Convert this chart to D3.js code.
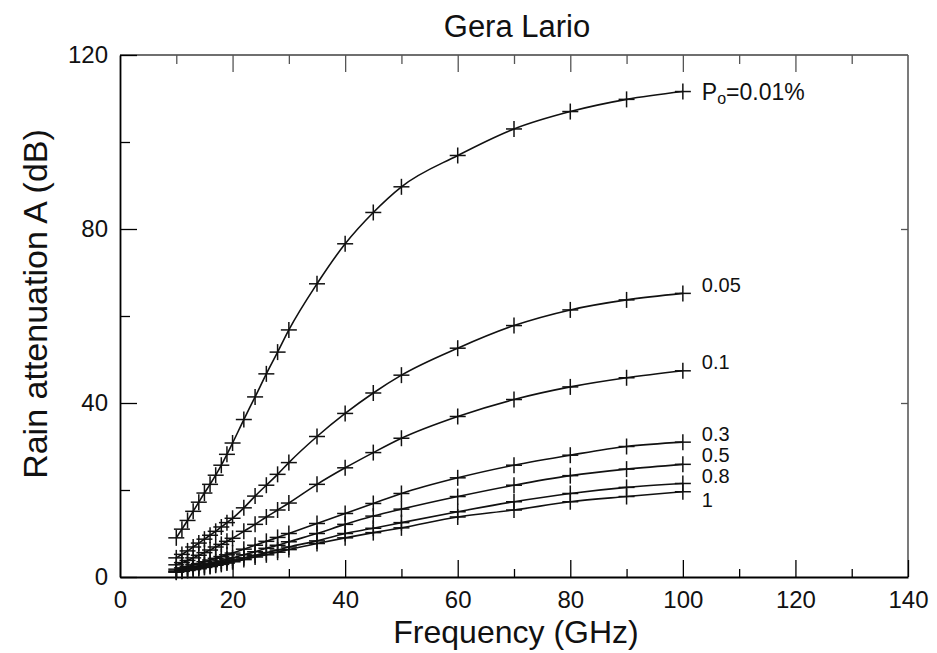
<!DOCTYPE html>
<html>
<head>
<meta charset="utf-8">
<script src="https://cdn.jsdelivr.net/npm/d3@7"></script>
<style>
  html, body { margin: 0; padding: 0; background: #fff; }
  svg { display: block; font-family: "Liberation Sans", Arial, Helvetica, sans-serif; }
</style>
</head>
<body>
<svg id="chart" width="937" height="653"></svg>
<script>
// Frequencies (GHz) at which attenuation was computed
const frequencies = [10, 11, 12, 13, 14, 15, 16, 17, 18, 19, 20, 22, 24, 26, 28, 30, 35, 40, 45, 50, 60, 70, 80, 90, 100];

// Rain attenuation (dB) for each time percentage P0
const att001 = [9.0, 11.0, 13.0, 15.1, 17.2, 19.3, 21.3, 23.4, 25.7, 28.2, 30.8, 36.2, 41.4, 46.7, 51.7, 56.8, 67.4, 76.6, 83.8, 89.7, 96.9, 103.0, 107.0, 109.8, 111.6];
const att005 = [4.4, 5.2, 6.0, 6.9, 7.8, 8.7, 9.6, 10.5, 11.5, 12.5, 13.5, 15.9, 18.6, 21.1, 23.6, 26.3, 32.3, 37.6, 42.3, 46.4, 52.6, 57.8, 61.4, 63.7, 65.2];
const att01  = [2.8, 3.3, 3.8, 4.4, 5.0, 5.6, 6.2, 6.9, 7.5, 8.2, 8.9, 10.5, 12.1, 13.8, 15.4, 17.0, 21.3, 25.1, 28.6, 31.9, 36.9, 40.8, 43.7, 45.8, 47.4];
const att03  = [1.8, 2.1, 2.4, 2.8, 3.1, 3.5, 3.9, 4.3, 4.7, 5.1, 5.5, 6.4, 7.3, 8.2, 9.1, 10.0, 12.3, 14.6, 16.9, 19.2, 22.8, 25.7, 28.0, 30.0, 31.0];
const att05  = [1.4, 1.7, 1.9, 2.2, 2.5, 2.8, 3.1, 3.4, 3.7, 4.1, 4.4, 5.1, 5.8, 6.6, 7.3, 8.1, 10.0, 12.1, 14.0, 15.6, 18.5, 21.1, 23.3, 24.8, 25.9];
const att08  = [1.2, 1.4, 1.6, 1.9, 2.1, 2.4, 2.6, 2.9, 3.2, 3.5, 3.8, 4.4, 5.0, 5.6, 6.2, 6.9, 8.3, 10.0, 11.2, 12.5, 15.0, 17.3, 19.2, 20.6, 21.5];
const att1   = [1.1, 1.3, 1.5, 1.7, 1.9, 2.2, 2.4, 2.7, 2.9, 3.2, 3.5, 4.0, 4.6, 5.1, 5.7, 6.3, 7.7, 9.0, 10.2, 11.3, 13.8, 15.4, 17.3, 18.5, 19.6];

const seriesValues = [att001, att005, att01, att03, att05, att08, att1];
const seriesLabels = ["0.01%", "0.05", "0.1", "0.3", "0.5", "0.8", "1"];
// vertical nudges so the end labels don't collide
const labelNudge = [0, -8, -9, -8, -9, -7, 8];

const xTicks = [0, 20, 40, 60, 80, 100, 120, 140];
const yTicks = [0, 40, 80, 120];

const svg = d3.select("#chart");
const plotLeft = 120, plotRight = 908, plotTop = 55, plotBottom = 577;

const x = d3.scaleLinear().domain([0, 140]).range([plotLeft, plotRight]);
const y = d3.scaleLinear().domain([0, 120]).range([plotBottom, plotTop]);

// frame: top and right edges are lighter
svg.append("line").attr("x1", plotLeft).attr("x2", plotRight).attr("y1", plotTop).attr("y2", plotTop)
  .attr("stroke", "#6f6f6f").attr("stroke-width", 2);
svg.append("line").attr("x1", plotRight).attr("x2", plotRight).attr("y1", plotTop).attr("y2", plotBottom)
  .attr("stroke", "#5a5a5a").attr("stroke-width", 1.6);

// bottom axis: major ticks inward, labelled
const xAxis = d3.axisBottom(x).tickValues(xTicks).tickSizeInner(-17).tickSizeOuter(0).tickPadding(14).tickFormat(d3.format("d"));
const gx = svg.append("g").attr("transform", `translate(0,${plotBottom})`).call(xAxis);
gx.select(".domain").attr("stroke-width", 1.8);
gx.selectAll(".tick line").attr("stroke-width", 1.3);
gx.selectAll(".tick text").attr("font-size", 24).attr("fill", "#111").attr("font-family", "Liberation Sans, Arial, sans-serif");
// minor ticks on bottom
svg.append("g").attr("transform", `translate(0,${plotBottom})`)
  .call(d3.axisBottom(x).tickValues(d3.range(10, 140, 20)).tickSizeInner(-8).tickSizeOuter(0).tickFormat(""))
  .call(g => g.select(".domain").remove())
  .selectAll(".tick line").attr("stroke-width", 1.3);

// top axis ticks hang downward
svg.append("g").attr("transform", `translate(0,${plotTop})`)
  .call(d3.axisTop(x).tickValues(xTicks.slice(1, -1)).tickSizeInner(-17).tickSizeOuter(0).tickFormat(""))
  .call(g => g.select(".domain").remove())
  .selectAll(".tick line").attr("stroke", "#555").attr("stroke-width", 1.3);
svg.append("g").attr("transform", `translate(0,${plotTop})`)
  .call(d3.axisTop(x).tickValues(d3.range(10, 140, 20)).tickSizeInner(-9).tickSizeOuter(0).tickFormat(""))
  .call(g => g.select(".domain").remove())
  .selectAll(".tick line").attr("stroke", "#555").attr("stroke-width", 1.3);

// left axis
const yAxis = d3.axisLeft(y).tickValues(yTicks).tickSizeInner(-17).tickSizeOuter(0).tickPadding(12).tickFormat(d3.format("d"));
const gy = svg.append("g").attr("transform", `translate(${plotLeft},0)`).call(yAxis);
gy.select(".domain").attr("stroke-width", 1.8);
gy.selectAll(".tick line").attr("stroke-width", 1.3);
gy.selectAll(".tick text").attr("font-size", 24).attr("fill", "#111").attr("font-family", "Liberation Sans, Arial, sans-serif");
svg.append("g").attr("transform", `translate(${plotLeft},0)`)
  .call(d3.axisLeft(y).tickValues([20, 60, 100]).tickSizeInner(-10).tickSizeOuter(0).tickFormat(""))
  .call(g => g.select(".domain").remove())
  .selectAll(".tick line").attr("stroke-width", 1.3);

// right edge ticks
svg.append("g").attr("transform", `translate(${plotRight},0)`)
  .call(d3.axisRight(y).tickValues([40, 80]).tickSizeInner(-7).tickSizeOuter(0).tickFormat(""))
  .call(g => g.select(".domain").remove())
  .selectAll(".tick line").attr("stroke", "#555").attr("stroke-width", 1.3);

// curves and "+" markers
const line = d3.line()
  .x((d, i) => x(frequencies[i]))
  .y(d => y(d))
  .curve(d3.curveMonotoneX);

const arm = 8;
seriesValues.forEach((vals, s) => {
  const g = svg.append("g");
  g.append("path").datum(vals).attr("d", line)
    .attr("fill", "none").attr("stroke", "#111").attr("stroke-width", 1.6);
  const m = g.selectAll("g.mk").data(vals).join("g")
    .attr("transform", (d, i) => `translate(${x(frequencies[i])},${y(d)})`);
  m.append("line").attr("x1", -arm).attr("x2", arm).attr("stroke", "#111").attr("stroke-width", 1.5);
  m.append("line").attr("y1", -arm).attr("y2", arm).attr("stroke", "#111").attr("stroke-width", 1.5);

  const last = vals[vals.length - 1];
  const t = svg.append("text")
    .attr("x", x(frequencies[frequencies.length - 1]) + 19)
    .attr("y", y(last) + labelNudge[s])
    .attr("dominant-baseline", "central")
    .attr("font-size", s === 0 ? 23 : 20).attr("fill", "#111");
  if (s === 0) {
    t.append("tspan").text("P");
    t.append("tspan").attr("font-size", 16).attr("dy", 6).text("o");
    t.append("tspan").attr("dy", -6).text("=" + seriesLabels[s]);
  } else {
    t.text(seriesLabels[s]);
  }
});

// titles
svg.append("text").attr("x", 517).attr("y", 37).attr("text-anchor", "middle")
  .attr("font-size", 31).attr("fill", "#111").text("Gera Lario");
svg.append("text").attr("x", (plotLeft + plotRight) / 2 + 2).attr("y", 643).attr("text-anchor", "middle")
  .attr("font-size", 32).attr("fill", "#111").text("Frequency (GHz)");
svg.append("text").attr("transform", `translate(47,${(plotTop + plotBottom) / 2 - 12}) rotate(-90)`)
  .attr("text-anchor", "middle")
  .attr("font-size", 34).attr("fill", "#111").text("Rain attenuation A (dB)");
</script>
</body>
</html>
